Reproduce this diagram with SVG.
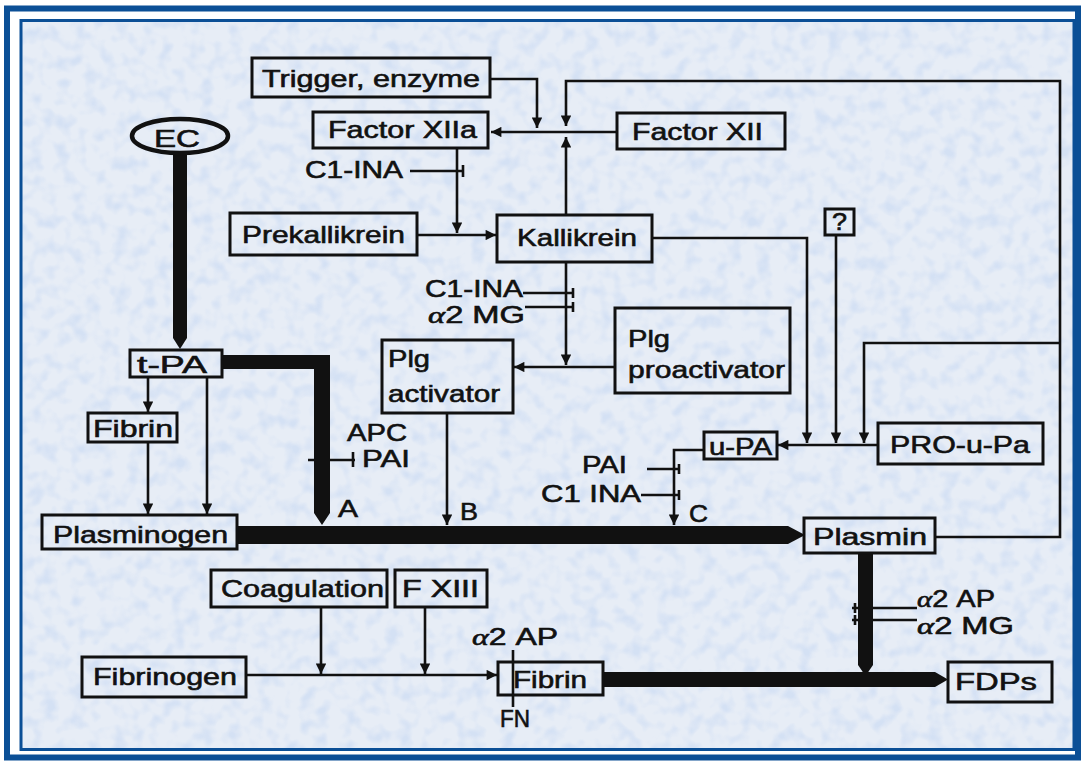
<svg xmlns="http://www.w3.org/2000/svg" width="1084" height="763" viewBox="0 0 1084 763">
<defs>
<style>
.box{fill:none;stroke:#111;stroke-width:3}
.t{font-family:"Liberation Sans",Arial,sans-serif;font-size:24px;fill:#111;stroke:#111;stroke-width:0.6}
.ln{fill:none;stroke:#111;stroke-width:2.6}
.arr{marker-end:url(#ah)}
.thick{fill:#111;stroke:none}
.g{font-family:"Liberation Serif","Times New Roman",serif;font-style:italic}
</style>
<marker id="ah" viewBox="0 0 10 10" refX="10" refY="5" markerWidth="5" markerHeight="4" orient="auto" markerUnits="strokeWidth">
<path d="M0,0 L10,5 L0,10 Z" fill="#111"/>
</marker>
<filter id="tex" x="0" y="0" width="100%" height="100%">
<feTurbulence type="fractalNoise" baseFrequency="0.07" numOctaves="2" seed="5"/>
<feColorMatrix type="matrix" values="0 0 0 0 0.45  0 0 0 0 0.6  0 0 0 0 0.88  3 0 0 0 -1.35"/>
</filter>
</defs>
<rect width="1084" height="763" fill="#ffffff"/>
<g id="frame">
<rect x="21" y="20.5" width="1053" height="729" fill="#e7edf6"/>
<rect x="21" y="20.5" width="1053" height="729" filter="url(#tex)" opacity="0.35"/>
<rect x="7" y="8.5" width="1071" height="749" fill="none" stroke="#0b4f96" stroke-width="6"/>
<rect x="21" y="20.5" width="1053" height="729" fill="none" stroke="#0b4f96" stroke-width="3"/>
</g>
<g id="connectors">
<path class="ln arr" d="M490,79 H537 V128"/>
<path class="ln arr" d="M617,132 H491"/>
<path class="ln arr" d="M566,215 V137"/>
<path class="ln arr" d="M935,537 H1060 V81 H566 V126"/>
<path class="ln arr" d="M457,148 V233"/>
<path class="ln arr" d="M417,235 H496"/>
<path class="ln" d="M410,171 H463 M463,165 V177"/>
<path class="ln arr" d="M566,262 V365"/>
<path class="ln" d="M523,293 H573 M573,288 V298 M525,307 H573 M573,302 V312"/>
<path class="ln arr" d="M615,367 H514"/>
<path class="ln arr" d="M447,413 V525"/>
<path class="ln arr" d="M652,238 H807 V443"/>
<path class="ln arr" d="M836,235 V443"/>
<path class="ln arr" d="M1060,343 H864 V443"/>
<path class="ln arr" d="M878,445 H778"/>
<path class="ln arr" d="M704,450 H674 V525"/>
<path class="ln" d="M647,469 H680 M679,464 V474 M641,495 H680 M679,490 V500"/>
<path class="ln arr" d="M148,377 V412"/>
<path class="ln arr" d="M148,442 V514"/>
<path class="ln arr" d="M207,377 V514"/>
<path class="ln" d="M308,460 H355 M353,452 V467"/>
<path class="ln arr" d="M246,675 H497"/>
<path class="ln arr" d="M321,607 V674"/>
<path class="ln arr" d="M425,607 V674"/>
<path class="ln" d="M513,650 V707"/>
<path class="ln" d="M852,608 H917 M852,620 H917 M855,603 V613 M855,615 V625"/>
<path class="thick" d="M173,154 H187 V338 L180,349 L173,338 Z"/>
<path class="thick" d="M222,355 H330 V513 L322,525 L314,513 V369 H222 Z"/>
<path class="thick" d="M237,526 H788 L805,535 L788,544 H237 Z"/>
<path class="thick" d="M858,553 H873 V665 L865.5,676 L858,665 Z"/>
<path class="thick" d="M603,672 H935 L948,679.5 L935,687 H603 Z"/>
</g>
<g id="labels">
<text class="t" x="305" y="178" textLength="98" lengthAdjust="spacingAndGlyphs">C1-INA</text>
<text class="t" x="425" y="297" textLength="98" lengthAdjust="spacingAndGlyphs">C1-INA</text>
<text class="t" x="428" y="323" textLength="97" lengthAdjust="spacingAndGlyphs"><tspan class="g">α</tspan>2 MG</text>
<text class="t" x="347" y="441" textLength="60" lengthAdjust="spacingAndGlyphs">APC</text>
<text class="t" x="362" y="467" textLength="48" lengthAdjust="spacingAndGlyphs">PAI</text>
<text class="t" x="338" y="517" textLength="20" lengthAdjust="spacingAndGlyphs">A</text>
<text class="t" x="460" y="520" textLength="18" lengthAdjust="spacingAndGlyphs">B</text>
<text class="t" x="582" y="473" textLength="45" lengthAdjust="spacingAndGlyphs">PAI</text>
<text class="t" x="541" y="502" textLength="100" lengthAdjust="spacingAndGlyphs">C1 INA</text>
<text class="t" x="689" y="522" textLength="19" lengthAdjust="spacingAndGlyphs">C</text>
<text class="t" x="472" y="645" textLength="86" lengthAdjust="spacingAndGlyphs"><tspan class="g">α</tspan>2 AP</text>
<text class="t" x="500" y="727" textLength="30" lengthAdjust="spacingAndGlyphs">FN</text>
<text class="t" x="917" y="607" textLength="78" lengthAdjust="spacingAndGlyphs"><tspan class="g">α</tspan>2 AP</text>
<text class="t" x="917" y="634" textLength="97" lengthAdjust="spacingAndGlyphs"><tspan class="g">α</tspan>2 MG</text>
</g>
<g id="trigger"><rect class="box" x="252" y="58" width="238" height="39"/><text class="t" x="262" y="87" textLength="218" lengthAdjust="spacingAndGlyphs">Trigger, enzyme</text></g>
<g id="factor-xiia"><rect class="box" x="313" y="112" width="175" height="36"/><text class="t" x="328" y="138" textLength="149" lengthAdjust="spacingAndGlyphs">Factor XIIa</text></g>
<g id="factor-xii"><rect class="box" x="617" y="113" width="168" height="36"/><text class="t" x="632" y="140" textLength="131" lengthAdjust="spacingAndGlyphs">Factor XII</text></g>
<g id="ec"><ellipse cx="180" cy="136" rx="48" ry="17" fill="none" stroke="#111" stroke-width="4.5"/><text class="t" x="154" y="147" textLength="46" lengthAdjust="spacingAndGlyphs">EC</text></g>
<g id="prekallikrein"><rect class="box" x="230" y="213" width="187" height="42"/><text class="t" x="242" y="243" textLength="163" lengthAdjust="spacingAndGlyphs">Prekallikrein</text></g>
<g id="kallikrein"><rect class="box" x="497" y="215" width="155" height="47"/><text class="t" x="517" y="246" textLength="120" lengthAdjust="spacingAndGlyphs">Kallikrein</text></g>
<g id="unknown"><rect class="box" x="825" y="209" width="29" height="26"/><text class="t" x="832" y="230" textLength="15" lengthAdjust="spacingAndGlyphs">?</text></g>
<g id="plg-proactivator"><rect class="box" x="615" y="308" width="175" height="85"/><text class="t" x="628" y="347" textLength="42" lengthAdjust="spacingAndGlyphs">Plg</text><text class="t" x="628" y="378" textLength="157" lengthAdjust="spacingAndGlyphs">proactivator</text></g>
<g id="plg-activator"><rect class="box" x="382" y="340" width="131" height="73"/><text class="t" x="388" y="367" textLength="42" lengthAdjust="spacingAndGlyphs">Plg</text><text class="t" x="388" y="402" textLength="112" lengthAdjust="spacingAndGlyphs">activator</text></g>
<g id="t-pa"><rect class="box" x="130" y="350" width="92" height="27" stroke-width="4"/><text class="t" x="137" y="373" textLength="70" lengthAdjust="spacingAndGlyphs">t-PA</text></g>
<g id="fibrin-top"><rect class="box" x="88" y="413" width="89" height="29"/><text class="t" x="93" y="437" textLength="80" lengthAdjust="spacingAndGlyphs">Fibrin</text></g>
<g id="plasminogen"><rect class="box" x="42" y="515" width="195" height="34"/><text class="t" x="53" y="543" textLength="175" lengthAdjust="spacingAndGlyphs">Plasminogen</text></g>
<g id="u-pa"><rect class="box" x="704" y="432" width="73" height="27"/><text class="t" x="709" y="455" textLength="63" lengthAdjust="spacingAndGlyphs">u-PA</text></g>
<g id="pro-u-pa"><rect class="box" x="878" y="423" width="165" height="41"/><text class="t" x="890" y="453" textLength="140" lengthAdjust="spacingAndGlyphs">PRO-u-Pa</text></g>
<g id="plasmin"><rect class="box" x="804" y="518" width="131" height="35" stroke-width="4"/><text class="t" x="813" y="545" textLength="114" lengthAdjust="spacingAndGlyphs">Plasmin</text></g>
<g id="coagulation"><rect class="box" x="211" y="570" width="176" height="37"/><text class="t" x="221" y="597" textLength="163" lengthAdjust="spacingAndGlyphs">Coagulation</text></g>
<g id="f-xiii"><rect class="box" x="395" y="570" width="92" height="37"/><text class="t" x="402" y="597" textLength="77" lengthAdjust="spacingAndGlyphs">F XIII</text></g>
<g id="fibrinogen"><rect class="box" x="82" y="657" width="164" height="40"/><text class="t" x="93" y="685" textLength="144" lengthAdjust="spacingAndGlyphs">Fibrinogen</text></g>
<g id="fibrin-bottom"><rect class="box" x="498" y="662" width="105" height="33" stroke-width="4"/><text class="t" x="513" y="688" textLength="74" lengthAdjust="spacingAndGlyphs">Fibrin</text></g>
<g id="fdps"><rect class="box" x="948" y="662" width="104" height="40" stroke-width="4"/><text class="t" x="955" y="690" textLength="82" lengthAdjust="spacingAndGlyphs">FDPs</text></g>
</svg>
